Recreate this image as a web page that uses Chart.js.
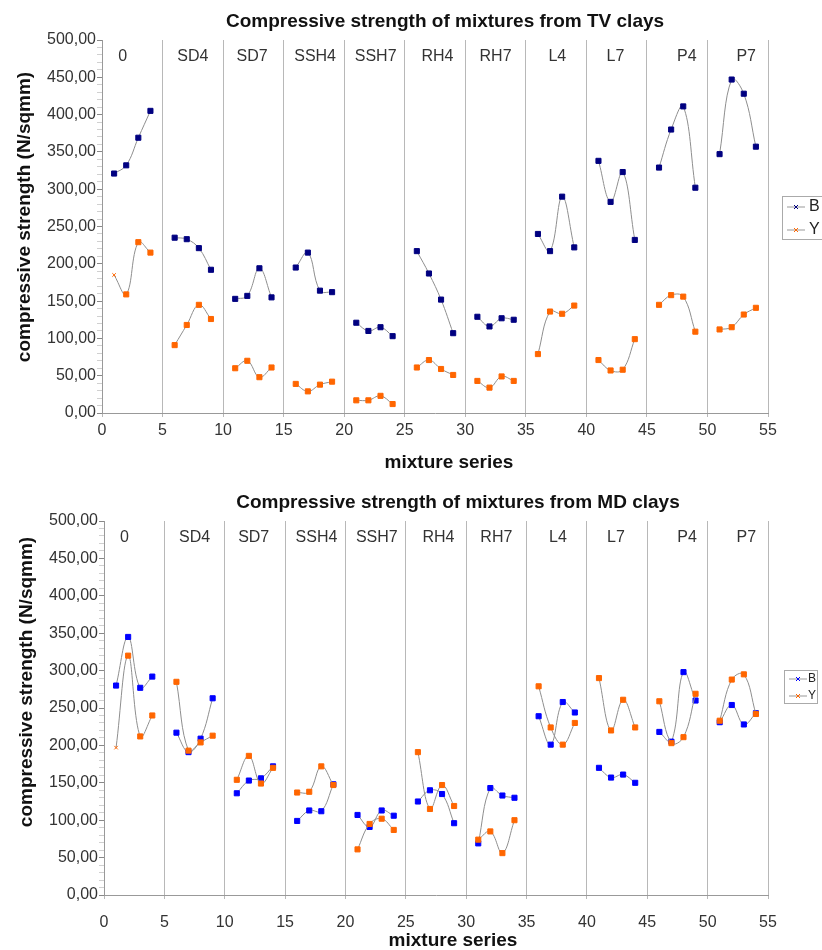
<!DOCTYPE html>
<html>
<head>
<meta charset="utf-8">
<script src="https://cdn.jsdelivr.net/npm/chart.js@4.4.1/dist/chart.umd.min.js"></script>
<style>
  body { margin: 0; background: #fff; overflow: hidden; }
  .box { position: absolute; left: 0; width: 822px; height: 475px; }
  #topBox { top: 0; }
  #bottomBox { top: 475px; }
</style>
</head>
<body>
<div class="box" id="topBox"><canvas id="tvChart"></canvas></div>
<div class="box" id="bottomBox"><canvas id="mdChart"></canvas></div>
<script>
// mixture groups and mixture numbers (4 mixtures per group)
const groups = ['0', 'SD4', 'SD7', 'SSH4', 'SSH7', 'RH4', 'RH7', 'L4', 'L7', 'P4', 'P7'];
const mixtures = [1, 2, 3, 4, 6, 7, 8, 9, 11, 12, 13, 14, 16, 17, 18, 19, 21, 22, 23, 24,
                  26, 27, 28, 29, 31, 32, 33, 34, 36, 37, 38, 39, 41, 42, 43, 44,
                  46, 47, 48, 49, 51, 52, 53, 54];

// TV clays
const tvB = [321, 332, 369, 405, 235, 233, 221, 192, 153, 157, 194, 155, 195, 215, 164, 162,
             121, 110, 115, 103, 217, 187, 152, 107, 129, 116, 127, 125, 240, 217, 290, 222,
             338, 283, 323, 232, 329, 380, 411, 302, 347, 447, 428, 357];
const tvY = [185, 159, 229, 215, 91, 118, 145, 126, 60, 70, 48, 61, 39, 29, 38, 42,
             17, 17, 23, 12, 61, 71, 59, 51, 43, 34, 49, 43, 79, 136, 133, 144,
             71, 57, 58, 99, 145, 158, 156, 109, 112, 115, 132, 141];

// MD clays
const mdB = [280, 345, 277, 292, 217, 191, 209, 263, 136, 153, 156, 172, 99, 113, 112, 148,
             107, 91, 113, 106, 125, 140, 135, 96, 69, 143, 133, 130, 239, 201, 258, 244,
             170, 157, 161, 150, 218, 205, 298, 260, 231, 254, 228, 243];
const mdY = [197, 320, 212, 240, 285, 193, 204, 213, 154, 186, 149, 170, 137, 138, 172, 147,
             61, 95, 102, 87, 191, 115, 147, 119, 74, 85, 56, 100, 279, 224, 201, 230,
             290, 220, 261, 224, 259, 203, 211, 269, 233, 288, 295, 242];

// where the group names sit along the x axis
const labelAt = [1.7, 7.5, 12.4, 17.6, 22.6, 27.7, 32.5, 37.6, 42.4, 48.3, 53.2];

const FONT = '"Liberation Sans", Arial, sans-serif';
const fmt = v => v.toFixed(2).replace('.', ',');

// break the line between groups with a null point
function toPoints(values) {
  const pts = [];
  values.forEach((v, i) => {
    pts.push({ x: mixtures[i], y: v });
    if (i % 4 === 3 && i < values.length - 1) pts.push({ x: mixtures[i] + 1, y: null });
  });
  return pts;
}

function series(label, values, color, order, firstSmall) {
  return {
    label: label,
    data: toPoints(values),
    order: order,
    borderColor: '#8e8e8e',
    borderWidth: 1,
    tension: 0.4,
    spanGaps: false,
    pointStyle: ctx => (firstSmall && ctx.dataIndex === 0) ? 'crossRot' : 'rect',
    pointRadius: ctx => (firstSmall && ctx.dataIndex === 0) ? 2.5 : 3.6,
    pointBackgroundColor: color,
    pointBorderColor: color,
    pointBorderWidth: 1
  };
}

const decor = {
  id: 'decor',
  afterDraw(chart, args, opts) {
    const { ctx, scales: { x, y } } = chart;
    ctx.save();
    ctx.fillStyle = '#333';
    ctx.font = '16px ' + FONT;
    ctx.textAlign = 'center';
    ctx.textBaseline = 'middle';
    groups.forEach((g, i) => {
      ctx.fillText(g, x.getPixelForValue(labelAt[i]), y.getPixelForValue(478));
    });

    ctx.fillStyle = '#111';
    ctx.font = 'bold 19px ' + FONT;
    opts.texts.forEach(t => {
      ctx.save();
      ctx.translate(t.x, t.y);
      if (t.rotate) ctx.rotate(-Math.PI / 2);
      ctx.fillText(t.text, 0, 0);
      ctx.restore();
    });

    // legend
    const lg = opts.legend;
    ctx.strokeStyle = '#aaa';
    ctx.lineWidth = 1;
    ctx.strokeRect(lg.x + 0.5, lg.y + 0.5, lg.w, lg.h);
    ctx.font = lg.size + 'px ' + FONT;
    ctx.textAlign = 'left';
    chart.data.datasets.slice().sort((a, b) => b.order - a.order).forEach((ds, i) => {
      const yy = lg.rows[i];
      ctx.strokeStyle = '#999';
      ctx.beginPath();
      ctx.moveTo(lg.x + 5, yy);
      ctx.lineTo(lg.x + 23, yy);
      ctx.stroke();
      ctx.strokeStyle = ds.pointBorderColor;
      ctx.beginPath();
      ctx.moveTo(lg.x + 12, yy - 2); ctx.lineTo(lg.x + 16, yy + 2);
      ctx.moveTo(lg.x + 12, yy + 2); ctx.lineTo(lg.x + 16, yy - 2);
      ctx.stroke();
      ctx.fillStyle = '#222';
      ctx.fillText(ds.label, lg.x + lg.textDx, yy);
    });
    ctx.restore();
  }
};

function makeChart(id, bVals, yVals, bColor, area, texts, legend) {
  new Chart(document.getElementById(id), {
    type: 'line',
    data: {
      datasets: [
        series('B', bVals, bColor, 1, false),
        series('Y', yVals, '#ff6600', 0, true)
      ]
    },
    options: {
      responsive: true,
      maintainAspectRatio: false,
      animation: false,
      layout: { padding: { top: area.top, right: 54, left: 0, bottom: 0 } },
      scales: {
        x: {
          type: 'linear',
          min: 0,
          max: 55,
          afterFit: s => { s.height = area.xh; },
          ticks: { stepSize: 5, color: '#333', font: { family: FONT, size: 16 }, padding: area.xpad },
          grid: { color: '#b8b8b8', lineWidth: 1, tickLength: 4, tickColor: '#b8b8b8' },
          border: { color: '#999' }
        },
        y: {
          min: 0,
          max: 500,
          afterFit: s => { s.width = area.left; },
          ticks: {
            stepSize: 10,
            autoSkip: false,
            padding: 1,
            color: '#333',
            font: { family: FONT, size: 16 },
            callback: v => (v % 50 === 0 ? fmt(v) : '')
          },
          grid: {
            drawOnChartArea: false,
            tickLength: 5,
            tickColor: ctx => (ctx.tick && ctx.tick.value % 50 === 0 ? '#888' : '#d0d0d0')
          },
          border: { color: '#999' }
        }
      },
      plugins: {
        legend: { display: false },
        tooltip: { enabled: false },
        decor: { texts: texts, legend: legend }
      }
    },
    plugins: [decor]
  });
}

makeChart('tvChart', tvB, tvY, '#000080',
  { top: 40, xh: 62, left: 102, xpad: 4 },
  [
    { text: 'Compressive strength of mixtures from TV clays', x: 445, y: 22 },
    { text: 'compressive strength (N/sqmm)', x: 25, y: 217, rotate: true },
    { text: 'mixture series', x: 449, y: 463 }
  ],
  { x: 782, y: 196, w: 50, h: 43, rows: [207, 230], size: 16, textDx: 27 });

makeChart('mdChart', mdB, mdY, '#0000ff',
  { top: 46, xh: 55, left: 104, xpad: 14 },
  [
    { text: 'Compressive strength of mixtures from MD clays', x: 458, y: 28 },
    { text: 'compressive strength (N/sqmm)', x: 27, y: 207, rotate: true },
    { text: 'mixture series', x: 453, y: 466 }
  ],
  { x: 784, y: 195, w: 33, h: 33, rows: [204, 221], size: 12, textDx: 24 });
</script>
</body>
</html>
